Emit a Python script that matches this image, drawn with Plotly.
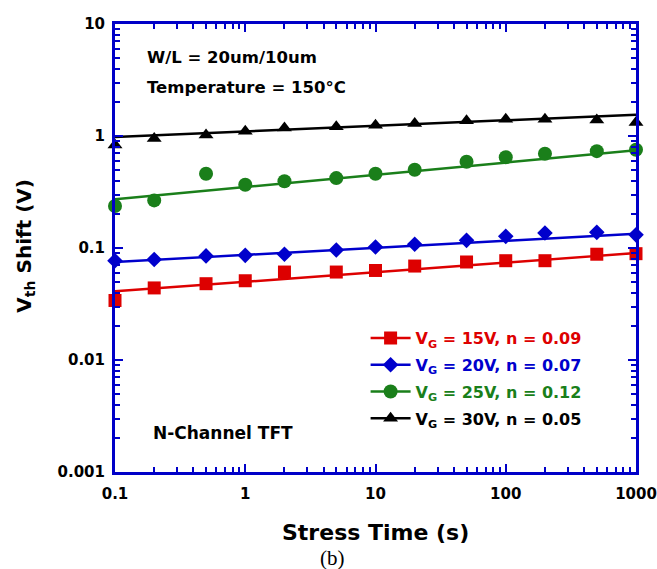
import plotly.graph_objects as go

# ---- data ----
stress_time = [0.1, 0.2, 0.5, 1, 2, 5, 10, 20, 50, 100, 200, 500, 1000]
vg15_shift = [0.034, 0.044, 0.048, 0.051, 0.061, 0.061, 0.063, 0.069, 0.075, 0.077, 0.077, 0.088, 0.089]
vg20_shift = [0.077, 0.079, 0.085, 0.086, 0.088, 0.096, 0.102, 0.108, 0.117, 0.127, 0.136, 0.138, 0.131]
vg25_shift = [0.237, 0.266, 0.46, 0.367, 0.394, 0.421, 0.46, 0.50, 0.589, 0.647, 0.694, 0.732, 0.754]
vg30_shift = [0.83, 0.95, 1.02, 1.10, 1.18, 1.21, 1.25, 1.29, 1.37, 1.41, 1.41, 1.39, 1.32]

fit_time = [0.1, 1000]
vg15_fit = [0.041, 0.090]
vg20_fit = [0.075, 0.134]
vg25_fit = [0.272, 0.745]
vg30_fit = [0.98, 1.55]

legend_labels = [
    "V<sub>G</sub> = 15V, n = 0.09",
    "V<sub>G</sub> = 20V, n = 0.07",
    "V<sub>G</sub> = 25V, n = 0.12",
    "V<sub>G</sub> = 30V, n = 0.05",
]
x_tickvals = [0.1, 1, 10, 100, 1000]
x_ticktext = ["0.1", "1", "10", "100", "1000"]
y_tickvals = [0.001, 0.01, 0.1, 1, 10]
y_ticktext = ["0.001", "0.01", "0.1", "1", "10"]

FONT = "DejaVu Sans"
AXBLUE = "#0000c8"
RED = "#dd0000"
BLUE = "#0000cc"
GREEN = "#1a7f1a"
BLACK = "#000000"

series = [
    (vg15_shift, vg15_fit, RED, "square", 13),
    (vg20_shift, vg20_fit, BLUE, "diamond", 12),
    (vg25_shift, vg25_fit, GREEN, "circle", 14),
    (vg30_shift, vg30_fit, BLACK, "triangle-up", 13),
]

fig = go.Figure()
for i, ((vals, fit, color, sym, size), label) in enumerate(zip(series, legend_labels)):
    fig.add_trace(go.Scatter(x=fit_time, y=fit, mode="lines",
                             line=dict(color=color, width=2.5),
                             showlegend=False, hoverinfo="skip"))
    fig.add_trace(go.Scatter(x=stress_time, y=vals, mode="markers",
                             marker=dict(color=color, symbol=sym, size=size, line=dict(width=0)),
                             showlegend=False, cliponaxis=False))
    fig.add_trace(go.Scatter(x=[None], y=[None], mode="lines+markers",
                             line=dict(color=color, width=2.5), legendgroup=f"g{i}",
                             marker=dict(color=color, symbol=sym, size=size, line=dict(width=0)),
                             name=f"<span style='color:{color}'>{label}</span>"))

axis_common = dict(
    type="log", showline=True, linecolor=AXBLUE, linewidth=3, mirror="allticks",
    ticks="inside", ticklen=8, tickwidth=2, tickcolor=AXBLUE, showgrid=False,
    zeroline=False, automargin=False,
    tickfont=dict(family=FONT, size=15, color="black", weight="bold"),
    minor=dict(ticks="inside", ticklen=5, tickwidth=2, tickcolor=AXBLUE, dtick="D1", showgrid=False),
)

fig.update_xaxes(**axis_common, range=[-1, 3], tickvals=x_tickvals, ticktext=x_ticktext, ticklabelstandoff=6)
fig.update_yaxes(**axis_common, range=[-3, 1], tickvals=y_tickvals, ticktext=y_ticktext, ticklabelstandoff=4)

fig.add_annotation(text="Stress Time (s)", xref="paper", yref="paper", x=0.5, y=-0.136,
                   xanchor="center", yanchor="middle", showarrow=False,
                   font=dict(family=FONT, size=22, color="black", weight="bold"))
fig.add_annotation(text="V<sub>th</sub> Shift (V)", xref="paper", yref="paper", x=-0.173, y=0.505,
                   xanchor="center", yanchor="middle", showarrow=False, textangle=-90,
                   font=dict(family=FONT, size=20, color="black", weight="bold"))

fig.add_annotation(text="W/L = 20um/10um", xref="paper", yref="paper", x=0.0576, y=0.926,
                   xanchor="left", yanchor="middle", showarrow=False,
                   font=dict(family=FONT, size=16.5, color="black", weight="bold"))
fig.add_annotation(text="Temperature = 150°C", xref="paper", yref="paper", x=0.0576, y=0.859,
                   xanchor="left", yanchor="middle", showarrow=False,
                   font=dict(family=FONT, size=16.5, color="black", weight="bold"))
fig.add_annotation(text="N-Channel TFT", xref="paper", yref="paper", x=0.0685, y=0.087,
                   xanchor="left", yanchor="middle", showarrow=False,
                   font=dict(family=FONT, size=17, color="black", weight="bold"))
fig.add_annotation(text="(b)", xref="paper", yref="paper", x=0.418, y=-0.192,
                   xanchor="center", yanchor="middle", showarrow=False,
                   font=dict(family="Liberation Serif", size=21, color="black"))

fig.update_layout(
    width=657, height=569,
    margin=dict(l=115, r=21, t=24, b=97, autoexpand=False),
    paper_bgcolor="white", plot_bgcolor="white",
    legend=dict(x=0.481, y=0.337, xanchor="left", yanchor="top", bgcolor="rgba(0,0,0,0)",
                font=dict(family=FONT, size=16, weight="bold"), tracegroupgap=3, itemwidth=40),
)

fig.write_html("out.html", config={"displayModeBar": False},
               post_script="document.body.style.margin='0';document.body.style.overflow='hidden';")
